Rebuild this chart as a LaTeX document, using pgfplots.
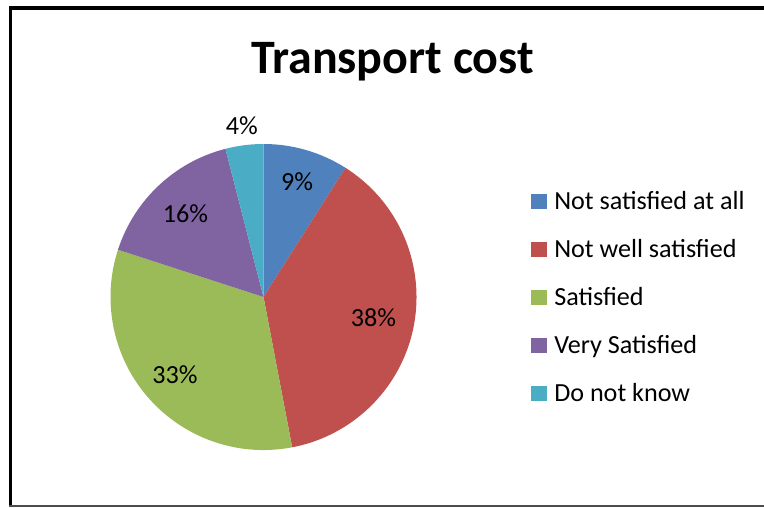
\documentclass[border=0pt]{standalone}
\usepackage{pgfplots}
\pgfplotsset{compat=1.18}
\usepackage{fontspec}
\setmainfont{Carlito}

\definecolor{sliceA}{HTML}{4F81BD}
\definecolor{sliceB}{HTML}{C0504D}
\definecolor{sliceC}{HTML}{9BBB59}
\definecolor{sliceD}{HTML}{8064A2}
\definecolor{sliceE}{HTML}{4BACC6}

% share (%) / colour / label radius (px) / legend text
\newcommand\piedata{%
  9/sliceA/120/Not satisfied at all,
  38/sliceB/112/Not well satisfied,
  33/sliceC/118/Satisfied,
  16/sliceD/114/Very Satisfied,
  4/sliceE/173/Do not know}

\begin{document}
\begin{tikzpicture}
% build the slice commands first (1 px = 0.75pt)
\xdef\cum{0}\xdef\row{0}\gdef\piecmds{}
\foreach \v/\c/\lr/\name in \piedata {
  \pgfmathsetmacro\aS{90-3.6*\cum}
  \pgfmathsetmacro\aE{90-3.6*(\cum+\v)}
  \pgfmathsetmacro\aM{(\aS+\aE)/2}
  \pgfmathsetmacro\lrpt{\lr*0.75}
  \pgfmathsetmacro\ly{201.5+47.9*\row}
  \pgfmathsetmacro\lt{\ly-7.5}
  \pgfmathsetmacro\lbot{\ly+7.5}
  \pgfmathsetmacro\lb{\ly+8}
  \xdef\piecmds{\unexpanded\expandafter{\piecmds}
    \noexpand\fill[\c] (axis cs:263.5,297) -- ++(\aS:114.75pt)
      arc[start angle=\aS, end angle=\aE, radius=114.75pt] -- cycle;
    \noexpand\path (axis cs:263.5,297) ++(\aM:\lrpt pt)
      node[inner sep=0, font=\noexpand\labfont] {\v\noexpand\%};
    \noexpand\fill[\c] (axis cs:531,\lt) rectangle (axis cs:547,\lbot);
    \noexpand\node[anchor=base west, inner sep=0, font=\noexpand\labfont]
      at (axis cs:554,\lb) {\name};}
  \pgfmathsetmacro\tmp{\cum+\v}\xdef\cum{\tmp}
  \pgfmathtruncatemacro\tmp{\row+1}\xdef\row{\tmp}
}
\newcommand\labfont{\fontsize{19.6pt}{23pt}\selectfont}
\begin{axis}[
    width=573pt, height=380.25pt, scale only axis,
    xmin=0, xmax=764, ymin=0, ymax=507, y dir=reverse,
    hide axis, clip=false,
]
\fill[white] (axis cs:0,0) rectangle (axis cs:764,507);
% chart frame
\fill[black] (axis cs:9,6) rectangle (axis cs:764,10);
\fill[black] (axis cs:9,6) rectangle (axis cs:12,506);
\fill[black!70] (axis cs:9,505) rectangle (axis cs:764,506.5);
\node[anchor=base, inner sep=0, font=\fontsize{36pt}{40pt}\selectfont\bfseries]
  at (axis cs:392.5,73.3) {Transport cost};
\piecmds
\end{axis}
\end{tikzpicture}
\end{document}
